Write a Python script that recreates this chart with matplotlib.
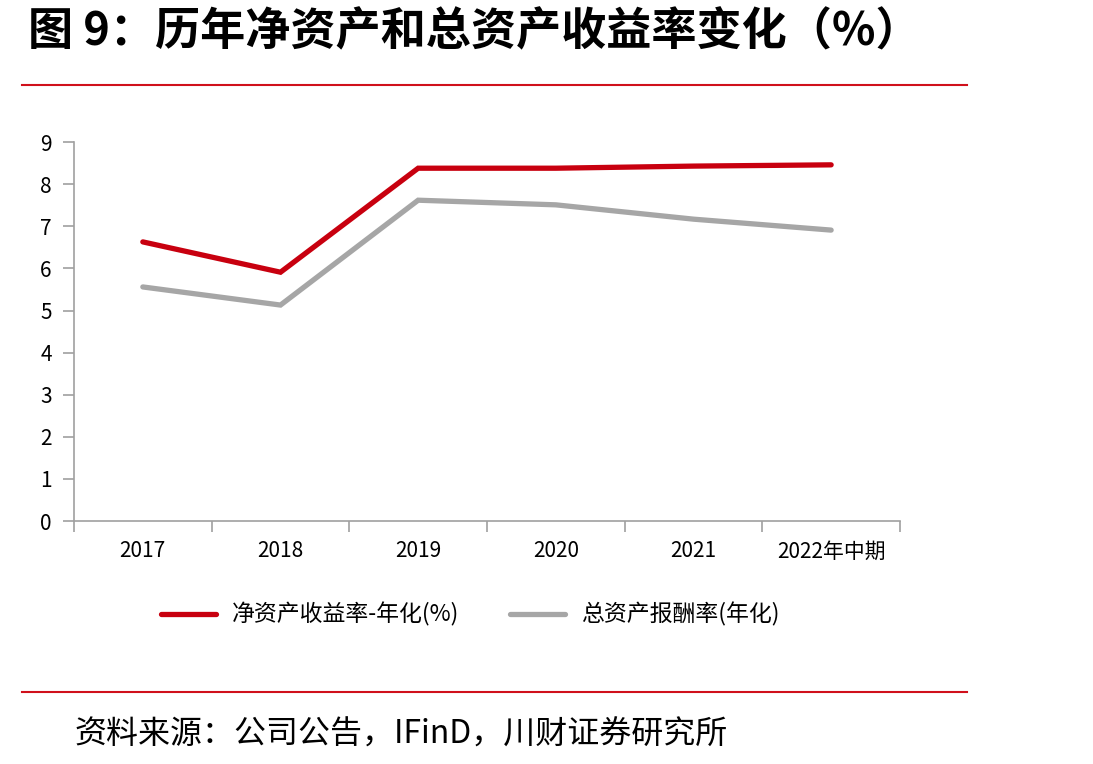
import numpy as np
import matplotlib.pyplot as plt
from matplotlib.lines import Line2D

plt.rcParams['font.family'] = ['Noto Sans CJK SC', 'DejaVu Sans']

# ===========================
# Data
years = ['2017', '2018', '2019', '2020', '2021', '2022年中期']
roe = [6.63, 5.91, 8.38, 8.38, 8.43, 8.46]
roa = [5.56, 5.13, 7.62, 7.51, 7.17, 6.91]
label_roe = '净资产收益率-年化(%)'
label_roa = '总资产报酬率(年化)'
yticks = [0, 1, 2, 3, 4, 5, 6, 7, 8, 9]

red = '#C8000F'
grey = '#A6A6A6'
axis_col = '#A0A0A0'

# ===========================
fig = plt.figure(figsize=(10.93, 7.64), dpi=100)

# title and red rules
fig.text(0.026, 0.958, '图 9：历年净资产和总资产收益率变化（%）', fontsize=32.5,
         fontweight='black', va='center', ha='left', color='black')
fig.add_artist(Line2D([0.020, 0.885], [0.889, 0.889], color='#D0101B', lw=1.5))
fig.add_artist(Line2D([0.020, 0.885], [0.094, 0.094], color='#D0101B', lw=1.5))
fig.text(0.068, 0.038, '资料来源：公司公告，IFinD，川财证券研究所', fontsize=23,
         va='center', ha='left', color='black', style='italic')

ax = fig.add_axes([0.0677, 0.318, 0.7557, 0.496])
x = np.arange(len(years))
ax.plot(x, roe, color=red, lw=3.8, solid_capstyle='round', solid_joinstyle='miter', label=label_roe)
ax.plot(x, roa, color=grey, lw=3.8, solid_capstyle='round', solid_joinstyle='miter', label=label_roa)

ax.set_xlim(-0.5, len(years) - 0.5)
ax.set_ylim(0, 9)
ax.set_yticks(yticks)
ax.set_yticklabels([str(v) for v in yticks], fontsize=15)

# category ticks between groups, labels centred
ax.set_xticks(np.arange(-0.5, len(years), 1.0))
ax.set_xticklabels([])
ax.set_xticks(x, minor=True)
ax.set_xticklabels(years, minor=True, fontsize=15)
ax.tick_params(axis='x', which='major', length=8, color=axis_col, width=1.2, direction='out')
ax.tick_params(axis='x', which='minor', length=0, pad=14)
ax.tick_params(axis='y', length=8, color=axis_col, width=1.2, direction='out', pad=8)

for s in ['top', 'right']:
    ax.spines[s].set_visible(False)
for s in ['left', 'bottom']:
    ax.spines[s].set_color(axis_col)
    ax.spines[s].set_linewidth(1.2)

ax.legend(loc='upper left', bbox_to_anchor=(0.08, -0.16), ncol=2, frameon=False,
          fontsize=16.5, handlelength=2.4, handletextpad=0.7, columnspacing=2.2)

fig.savefig('out.png', dpi=100)
